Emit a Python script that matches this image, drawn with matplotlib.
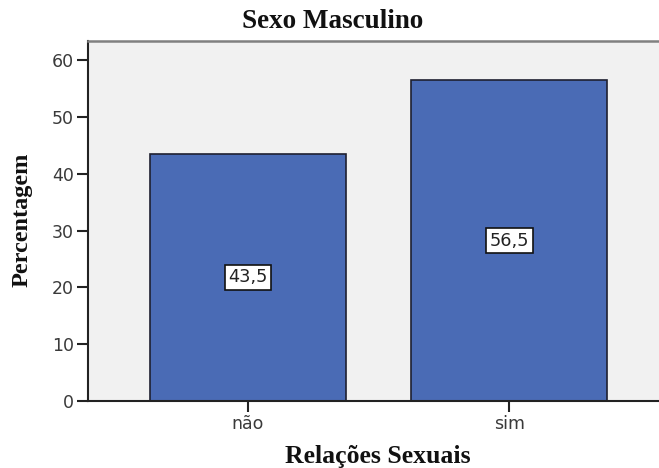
import matplotlib
matplotlib.use("Agg")
import matplotlib.pyplot as plt

categories = ["não", "sim"]
values = [43.5, 56.5]
value_labels = ["43,5", "56,5"]
yticks = [0, 10, 20, 30, 40, 50, 60]

plt.rcParams["font.family"] = ["DejaVu Sans"]

W, H = 659, 468
fig = plt.figure(figsize=(W / 100, H / 100), dpi=100)
ax = fig.add_axes([88 / W, 1 - 401 / H, (W - 88) / W + 0.01, (401 - 41) / H])
ax.set_facecolor("#f1f1f1")

x = list(range(len(categories)))
ax.bar(x, values, width=0.75, color="#4a6bb5", edgecolor="#1e2030", linewidth=1.2, zorder=2)
for xi, v, lab in zip(x, values, value_labels):
    ax.text(xi, v / 2, lab, ha="center", va="center", fontsize=12.8, color="#222222",
            family="DejaVu Sans", zorder=3,
            bbox=dict(boxstyle="square,pad=0.2", facecolor="white", edgecolor="#111111", linewidth=1.2))

ax.set_xlim(-0.612, 1.572 + 0.01 * W / 261.5)
ax.set_ylim(0, 63.4)
ax.set_yticks(yticks)
ax.set_yticklabels([str(t) for t in yticks])
ax.set_xticks(x)
ax.set_xticklabels(categories)
ax.tick_params(axis="both", direction="out", length=8, width=1.5, color="#222222",
               labelsize=12.5, labelcolor="#3a3a3a")
ax.tick_params(axis="y", pad=2)
ax.tick_params(axis="x", pad=2)
for s in ["left", "bottom"]:
    ax.spines[s].set_color("#222222")
    ax.spines[s].set_linewidth(1.5)
ax.spines["top"].set_color("#808080")
ax.spines["top"].set_linewidth(1.8)
ax.spines["right"].set_visible(False)

fig.text(333 / W, 1 - 22 / H, "Sexo Masculino", ha="center", va="center",
         family="Liberation Serif", fontweight="bold", fontsize=19.5, color="#111111")
fig.text(378 / W, 1 - 463 / H, "Relações Sexuais", ha="center", va="baseline",
         family="Liberation Serif", fontweight="bold", fontsize=18.5, color="#111111")
fig.text(22 / W, 1 - 220 / H, "Percentagem", ha="center", va="center", rotation=90,
         family="Liberation Serif", fontweight="bold", fontsize=17.5, color="#111111")

fig.savefig("out.png", dpi=100)
